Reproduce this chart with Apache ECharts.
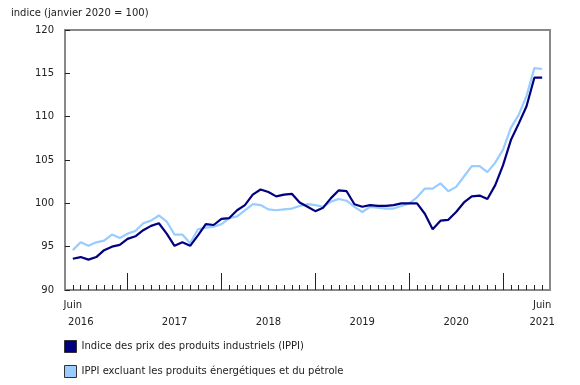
<!DOCTYPE html>
<html>
<head>
<meta charset="utf-8">
<script src="https://cdn.jsdelivr.net/npm/echarts@6/dist/echarts.min.js"></script>
<style>
  html, body { margin: 0; padding: 0; background: #fff; }
  #chart { width: 580px; height: 385px; }
</style>
</head>
<body>
<div id="chart"></div>
<script>
// mois, juin 2016 a juin 2021
var months = [
  '2016-06','2016-07','2016-08','2016-09','2016-10','2016-11','2016-12',
  '2017-01','2017-02','2017-03','2017-04','2017-05','2017-06','2017-07','2017-08','2017-09','2017-10','2017-11','2017-12',
  '2018-01','2018-02','2018-03','2018-04','2018-05','2018-06','2018-07','2018-08','2018-09','2018-10','2018-11','2018-12',
  '2019-01','2019-02','2019-03','2019-04','2019-05','2019-06','2019-07','2019-08','2019-09','2019-10','2019-11','2019-12',
  '2020-01','2020-02','2020-03','2020-04','2020-05','2020-06','2020-07','2020-08','2020-09','2020-10','2020-11','2020-12',
  '2021-01','2021-02','2021-03','2021-04','2021-05','2021-06'
]
// IPPI
var ippi = [
  93.6, 93.8, 93.5, 93.8, 94.6, 95.0, 95.2,
  95.9, 96.2, 96.9, 97.4, 97.7, 96.5, 95.1, 95.5, 95.1, 96.3, 97.6, 97.5,
  98.2, 98.3, 99.2, 99.8, 101.0, 101.6, 101.3, 100.8, 101.0, 101.1, 100.1, 99.6,
  99.1, 99.5, 100.6, 101.5, 101.4, 99.9, 99.6, 99.8, 99.7, 99.7, 99.8, 100.0,
  100.0, 100.0, 98.8, 97.0, 98.0, 98.1, 99.0, 100.1, 100.8, 100.9, 100.5, 102.1,
  104.4, 107.3, 109.2, 111.2, 114.5, 114.5
]
// IPPI excluant energie et petrole
var ippiHorsEnergie = [
  94.6, 95.5, 95.1, 95.5, 95.7, 96.4, 96.0,
  96.5, 96.8, 97.7, 98.0, 98.6, 97.9, 96.4, 96.4, 95.4, 97.0, 97.2, 97.3,
  97.6, 98.3, 98.5, 99.2, 99.9, 99.8, 99.3, 99.2, 99.3, 99.4, 99.7, 99.9,
  99.8, 99.6, 100.2, 100.5, 100.3, 99.6, 99.0, 99.6, 99.5, 99.4, 99.4, 99.7,
  100.0, 100.7, 101.7, 101.7, 102.3, 101.4, 101.9, 103.1, 104.3, 104.3, 103.6, 104.7,
  106.2, 108.7, 110.2, 112.4, 115.6, 115.5
]
var seriesNames = [
  'Indice des prix des produits industriels (IPPI)',
  'IPPI excluant les produits énergétiques et du pétrole'
]
var yTicks = { min: 90, max: 120, step: 5 }
// etiquettes de l'axe des x (par mois)
var xLabels = {
  '2016-06': '{a|Juin}\n{b|2016}',
  '2017-07': '\n2017',
  '2018-07': '\n2018',
  '2019-07': '\n2019',
  '2020-07': '\n2020',
  '2021-06': 'Juin\n2021'
}

var font = 'DejaVu Sans, Verdana, sans-serif'
// une case vide de chaque cote
var cats = [''].concat(months).concat([''])
var pad = function (arr) { return ['-'].concat(arr).concat(['-']) }

var chart = echarts.init(document.getElementById('chart'))
var option = {
  animation: false,
  title: {
    text: 'indice (janvier 2020 = 100)',
    left: 11, top: 8, padding: 0,
    textStyle: { fontFamily: font, fontSize: 10, fontWeight: 'normal', color: '#222' }
  },
  grid: {
    left: 65, right: 30, top: 30, bottom: 95,
    show: true, borderColor: '#888', borderWidth: 2
  },
  legend: {
    orient: 'vertical',
    left: 64, top: 340, padding: 0,
    itemWidth: 12, itemHeight: 12, itemGap: 12,
    icon: 'rect',
    itemStyle: { borderColor: '#333', borderWidth: 1 },
    textStyle: { fontFamily: font, fontSize: 10, color: '#222' },
    data: seriesNames
  },
  xAxis: [
    {
      type: 'category', data: cats, boundaryGap: false, position: 'bottom',
      axisLine: { lineStyle: { color: '#888', width: 2 } },
      axisTick: {
        inside: true, length: 5, lineStyle: { color: '#222' },
        interval: function (i) { return i >= 1 && i <= cats.length - 2 }
      },
      axisLabel: {
        interval: function (i, v) { return xLabels[v] !== undefined },
        formatter: function (v) { return xLabels[v] || '' },
        fontFamily: font, fontSize: 10, color: '#222', lineHeight: 17, margin: 7,
        rich: {
          a: { fontFamily: font, fontSize: 10, color: '#222', lineHeight: 17 },
          b: { fontFamily: font, fontSize: 10, color: '#222', lineHeight: 17, padding: [0, 0, 0, 16] }
        }
      },
      splitLine: { show: false }
    },
    {
      type: 'category', data: cats, boundaryGap: false, position: 'bottom',
      axisLine: { show: false },
      axisTick: {
        inside: true, length: 17, lineStyle: { color: '#222' },
        interval: function (i, v) { return v.slice(5) === '01' }
      },
      axisLabel: { show: false },
      splitLine: { show: false }
    }
  ],
  yAxis: {
    type: 'value', min: yTicks.min, max: yTicks.max, interval: yTicks.step,
    axisLine: { show: true, lineStyle: { color: '#888', width: 2 } },
    axisTick: { show: true, inside: true, length: 5, lineStyle: { color: '#222' } },
    axisLabel: { fontFamily: font, fontSize: 10, color: '#222', margin: 11 },
    splitLine: { show: false }
  },
  series: [
    {
      name: seriesNames[1], type: 'line', data: pad(ippiHorsEnergie),
      showSymbol: false, color: '#99ccff',
      lineStyle: { width: 2.2, color: '#99ccff' }
    },
    {
      name: seriesNames[0], type: 'line', data: pad(ippi),
      showSymbol: false, color: '#000080',
      lineStyle: { width: 2.2, color: '#000080' }
    }
  ]
}
chart.setOption(option)
</script>
</body>
</html>
